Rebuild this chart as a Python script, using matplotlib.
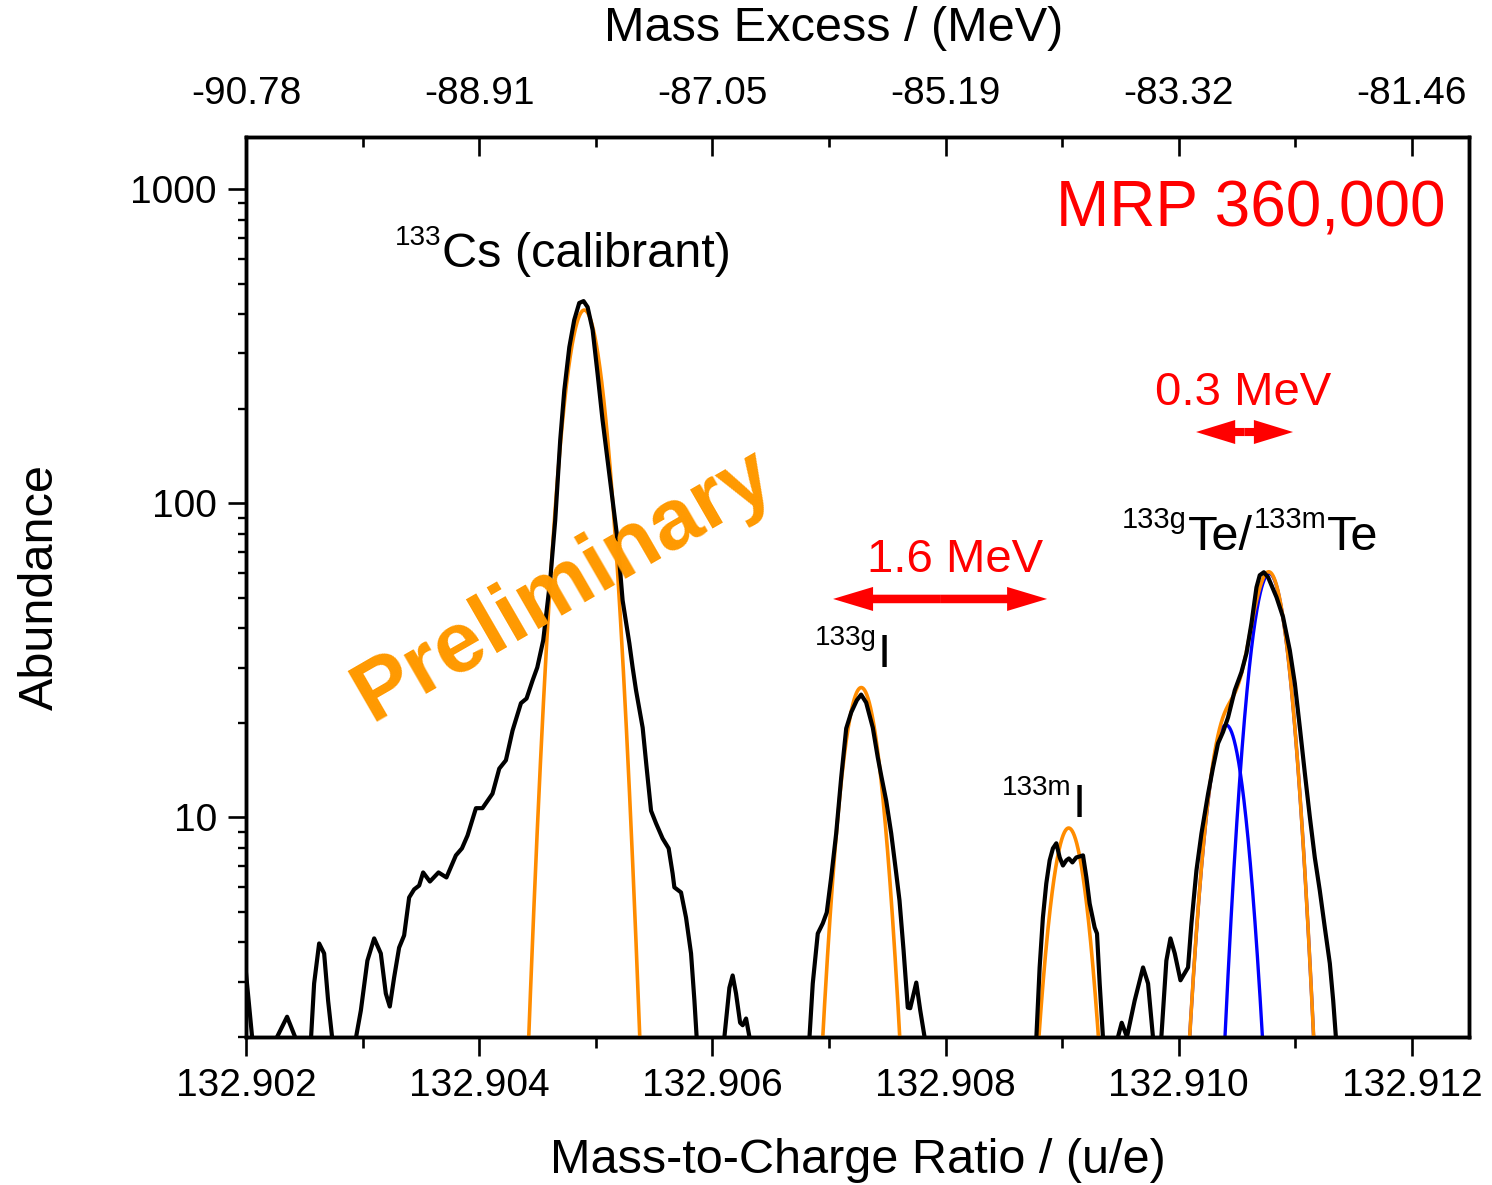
import numpy as np
import matplotlib
matplotlib.use('Agg')
import matplotlib.pyplot as plt
from matplotlib.patches import FancyArrow
from matplotlib.transforms import offset_copy
from matplotlib.ticker import AutoMinorLocator, LogLocator, NullFormatter, FixedLocator

plt.rcParams['font.family'] = ['Liberation Sans', 'DejaVu Sans']

# ---------------- data ----------------
mass_ticks = [132.902, 132.904, 132.906, 132.908, 132.910, 132.912]
mass_tick_labels = ['132.902', '132.904', '132.906', '132.908', '132.910', '132.912']
mass_excess_labels = ['-90.78', '-88.91', '-87.05', '-85.19', '-83.32', '-81.46']
abundance_ticks = [10, 100, 1000]
abundance_tick_labels = ['10', '100', '1000']

nan = np.nan
spectrum_mz = [
    132.902000, 132.902052, nan,
    132.902266, 132.902352, 132.902421, nan,
    132.902558, 132.902584, 132.902627, 132.902670, 132.902704, 132.902738, nan,
    132.902944, 132.902985, 132.903041, 132.903099, 132.903156, 132.903199, 132.903233,
    132.903270, 132.903313, 132.903356, 132.903399, 132.903442, 132.903485, 132.903519,
    132.903577, 132.903651, 132.903719, 132.903800, 132.903852, 132.903900, 132.903972,
    132.904028, 132.904114, 132.904172, 132.904229, 132.904286, 132.904358, 132.904406,
    132.904458, 132.904498, 132.904549, 132.904609, 132.904652, 132.904695, 132.904730,
    132.904773, 132.904815, 132.904858, 132.904895, 132.904930, 132.904973, 132.905015,
    132.905058, 132.905101, 132.905144, 132.905187, 132.905230, 132.905288, 132.905316,
    132.905345, 132.905402, 132.905436, 132.905474, 132.905517, 132.905573, 132.905625,
    132.905659, 132.905674, 132.905731, 132.905774, 132.905817, 132.905846, 132.905865, nan,
    132.906103, 132.906146, 132.906174, 132.906203, 132.906238, 132.906260, 132.906289,
    132.906318, nan,
    132.906833, 132.906861, 132.906904, 132.906947, 132.906981, 132.907019, 132.907062,
    132.907105, 132.907148, 132.907191, 132.907239, 132.907276, 132.907319, 132.907376,
    132.907419, 132.907448, 132.907491, 132.907534, 132.907577, 132.907605, 132.907640,
    132.907676, 132.907697, 132.907749, 132.907783, 132.907820, nan,
    132.908779, 132.908807, 132.908835, 132.908864, 132.908893, 132.908921, 132.908950,
    132.908979, 132.909007, 132.909036, 132.909058, 132.909088, 132.909122, 132.909150,
    132.909179, 132.909208, 132.909236, 132.909279, 132.909299, 132.909322, 132.909350, nan,
    132.909479, 132.909511, 132.909556, 132.909622, 132.909694, 132.909737, 132.909779, nan,
    132.909851, 132.909894, 132.909929, 132.909966, 132.910015, 132.910080, 132.910109,
    132.910152, 132.910195, 132.910252, 132.910294, 132.910337, 132.910380, 132.910423,
    132.910481, 132.910538, 132.910581, 132.910624, 132.910667, 132.910695, 132.910730,
    132.910767, 132.910839, 132.910895, 132.910953, 132.910996, 132.911039, 132.911082,
    132.911125, 132.911167, 132.911210, 132.911253, 132.911296, 132.911325, 132.911348,
]
spectrum_counts = [
    3.19, 2.0, nan,
    2.0, 2.32, 2.0, nan,
    2.0, 2.96, 3.97, 3.69, 2.61, 2.0, nan,
    2.0, 2.43, 3.50, 4.12, 3.69, 2.75, 2.50,
    3.09, 3.85, 4.21, 5.56, 5.90, 6.07, 6.68,
    6.25, 6.68, 6.44, 7.57, 7.97, 8.76, 10.7,
    10.7, 11.9, 14.3, 15.2, 18.9, 23.1, 23.9,
    27.3, 30.0, 36.6, 56.9, 88.3, 159, 229,
    314, 383, 434, 440, 421, 356, 259,
    184, 137, 102, 76.2, 49.1, 35.8, 30.0,
    25.4, 19.3, 14.4, 10.5, 9.57, 8.57, 7.97,
    6.63, 5.99, 5.77, 4.80, 3.69, 2.61, 2.0, nan,
    2.0, 2.87, 3.14, 2.75, 2.22, 2.18, 2.29,
    2.0, nan,
    2.0, 2.96, 4.27, 4.60, 4.98, 6.44, 8.89,
    13.4, 19.2, 21.6, 23.6, 24.6, 23.2, 19.3,
    15.5, 13.6, 11.3, 8.89, 6.63, 5.44, 3.77,
    2.48, 2.47, 2.98, 2.43, 2.0, nan,
    2.0, 3.33, 4.80, 6.16, 7.30, 7.97, 8.27,
    7.46, 7.03, 7.30, 7.40, 7.19, 7.46, 7.51,
    7.57, 6.44, 5.32, 4.46, 4.27, 2.96, 2.0, nan,
    2.0, 2.22, 2.0, 2.61, 3.33, 2.96, 2.0, nan,
    2.0, 3.50, 4.12, 3.69, 3.03, 3.33, 4.60,
    6.78, 8.89, 11.9, 14.4, 17.2, 18.7, 20.8,
    25.4, 29.0, 33.3, 41.5, 54.0, 59.0, 60.3,
    58.1, 50.2, 43.4, 34.0, 26.7, 19.3, 13.8,
    10.0, 7.46, 5.85, 4.46, 3.43, 2.61, 2.0,
]

# Gaussian fit parameters: 133Cs, 133gI, 133mI, 133gTe, 133mTe
fit_names = ['133Cs', '133gI', '133mI', '133gTe', '133mTe']
fit_centers = [132.904901, 132.907277, 132.909056, 132.910406, 132.910777]
fit_amplitudes = [412.0, 25.9, 9.25, 19.7, 59.7]
fit_sigma = 1.459e-4
te_component_idx = [3, 4]

x_min, x_max = 132.902, 132.91249
y_min, y_max = 2.0, 1465.0

# ---------------- figure ----------------
fig = plt.figure(figsize=(14.92, 11.85), dpi=100)
ax = fig.add_axes([0.1649, 0.1249, 0.8197, 0.7595])

xg = np.linspace(x_min, x_max, 6000)
comps = [a * np.exp(-0.5 * ((xg - c) / fit_sigma) ** 2)
         for c, a in zip(fit_centers, fit_amplitudes)]
total_fit = np.sum(comps, axis=0)

for i in te_component_idx:
    ax.plot(xg, comps[i], color='#0000FF', lw=2.4, zorder=2)
ax.plot(xg, total_fit, color='#FF8C00', lw=2.6, zorder=3)
ax.plot(spectrum_mz, spectrum_counts, color='black', lw=3.0, zorder=4,
        solid_joinstyle='round')

ax.set_yscale('log')
ax.set_xlim(x_min, x_max)
ax.set_ylim(y_min, y_max)

ax.set_xticks(mass_ticks)
ax.set_xticklabels(mass_tick_labels)
ax.xaxis.set_minor_locator(AutoMinorLocator(2))
ax.yaxis.set_major_locator(FixedLocator(abundance_ticks))
ax.set_yticklabels(abundance_tick_labels)
ax.yaxis.set_minor_locator(LogLocator(base=10, subs=np.arange(2, 10)))
ax.yaxis.set_minor_formatter(NullFormatter())

for s in ax.spines.values():
    s.set_linewidth(2.5)

ax.tick_params(axis='x', which='major', direction='out', length=14, width=1.9,
               labelsize=28, pad=8, top=False)
ax.tick_params(axis='x', which='minor', direction='out', length=8, width=1.9, top=False)
ax.tick_params(axis='y', which='major', direction='out', length=13, width=1.9,
               labelsize=28, pad=8, right=False)
ax.tick_params(axis='y', which='minor', direction='out', length=6, width=1.7, right=False)

ax.set_xlabel('Mass-to-Charge Ratio / (u/e)', fontsize=35)
ax.xaxis.set_label_coords(0.5, -0.137)
ax.xaxis.label.set_va('center')
ax.set_ylabel('Abundance', fontsize=35)
ax.yaxis.set_label_coords(-0.168, 0.5)
ax.yaxis.label.set_va('center')

ax2 = ax.twiny()
ax2.set_xlim(x_min, x_max)
ax2.set_xticks(mass_ticks)
ax2.set_xticklabels(mass_excess_labels)
ax2.xaxis.set_minor_locator(AutoMinorLocator(2))
ax2.tick_params(axis='x', which='major', direction='in', length=14, width=1.9,
                labelsize=28, pad=18)
ax2.tick_params(axis='x', which='minor', direction='in', length=7, width=1.9)
for s in ax2.spines.values():
    s.set_linewidth(2.5)
ax2.set_xlabel('Mass Excess / (MeV)', fontsize=35)
ax2.xaxis.set_label_coords(0.4808, 1.121)
ax2.xaxis.label.set_va('center')

# ---------------- annotations ----------------
renderer = fig.canvas.get_renderer()


def iso_label(x, y, parts):
    """parts: list of (text, fontsize, raise_pts); laid out left to right."""
    dx = 0.0
    for txt, size, rise in parts:
        tr = offset_copy(ax.transAxes, fig=fig, x=dx, y=rise, units='points')
        t = ax.text(x, y, txt, transform=tr, fontsize=size, ha='left',
                    va='baseline', zorder=6)
        w = t.get_window_extent(renderer=renderer).width
        dx += w * 72.0 / fig.dpi + 0.6


ax.text(0.981, 0.919, 'MRP 360,000', transform=ax.transAxes, color='#FF0000',
        fontsize=46, ha='right', va='center')
iso_label(0.1218, 0.8556, [('133', 20, 16), ('Cs (calibrant)', 35, 0)])
iso_label(0.4653, 0.4111, [('133g', 20, 16), ('I', 34, 0)])
iso_label(0.6181, 0.2444, [('133m', 20, 16), ('I', 34, 0)])
iso_label(0.7163, 0.5411, [('133g', 21, 16), ('Te/', 35, 0),
                           ('133m', 21, 16), ('Te', 35, 0)])

ax.text(0.5797, 0.5167, '1.6 MeV', transform=ax.transAxes, color='#FF0000',
        fontsize=34, ha='center', va='baseline')
ax.text(0.8152, 0.7022, '0.3 MeV', transform=ax.transAxes, color='#FF0000',
        fontsize=34, ha='center', va='baseline')


def double_arrow(x0, x1, y, shaft, head_w, head_l):
    xc = 0.5 * (x0 + x1)
    for xe in (x0, x1):
        ax.add_patch(FancyArrow(xc, y, xe - xc, 0, width=shaft,
                                length_includes_head=True, head_width=head_w,
                                head_length=head_l, transform=ax.transAxes,
                                color='#FF0000', lw=0, zorder=6))


double_arrow(0.4800, 0.6550, 0.4867, 0.0095, 0.0267, 0.0327)
double_arrow(0.7768, 0.8561, 0.6722, 0.0090, 0.0267, 0.0320)

ax.text(0.260, 0.501, 'Preliminary', transform=ax.transAxes, color='#FF9900',
        fontsize=62, fontweight='bold', rotation=30, ha='center', va='center',
        rotation_mode='anchor', zorder=7)

fig.savefig('out.png', dpi=100)
